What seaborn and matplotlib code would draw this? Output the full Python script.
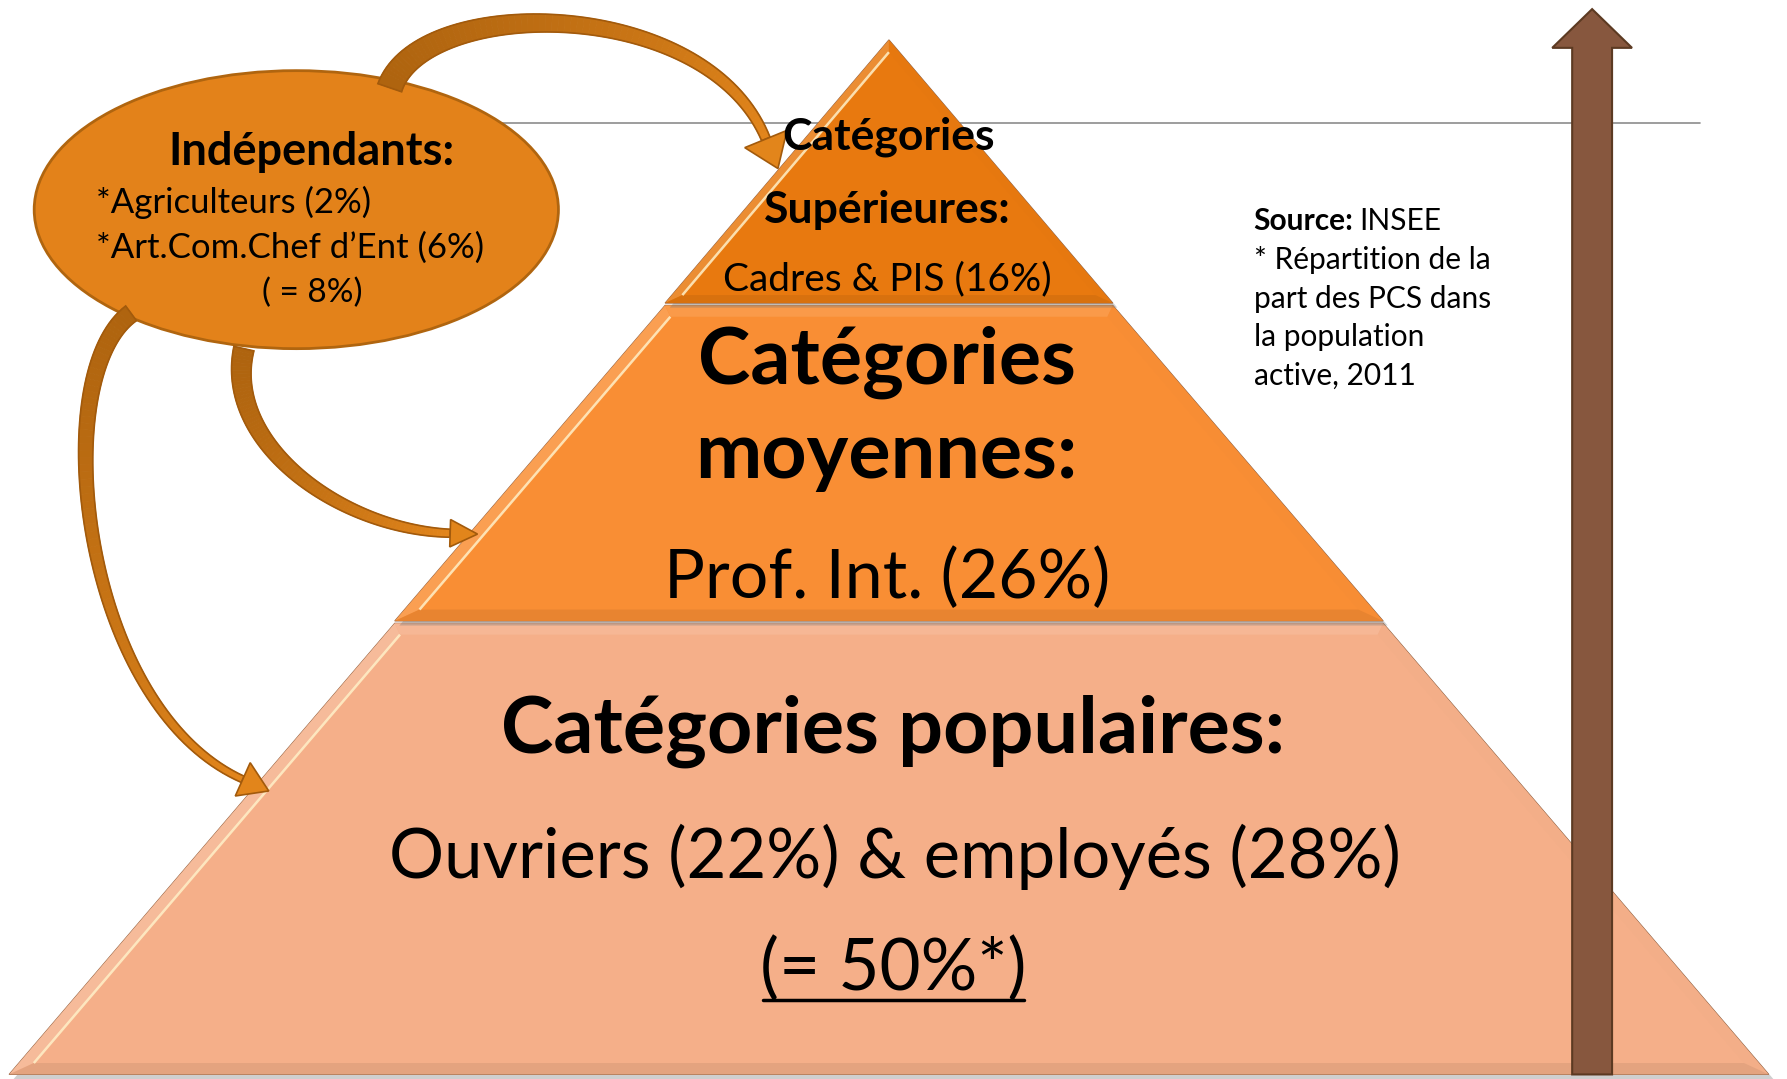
import numpy as np
import matplotlib
matplotlib.use("Agg")
import matplotlib.pyplot as plt
import matplotlib.patches as mpatches
from matplotlib.colors import to_rgb
import seaborn as sns

# Donnees
tier_titles = [["Catégories populaires:"], ["Catégories", "moyennes:"], ["Catégories", "Supérieures:"]]
tier_details = ["Ouvriers (22%) & employés (28%)", "Prof. Int. (26%)", "Cadres & PIS (16%)"]
tier_total = "(= 50%*)"
tier_colors = ["#F5AF89", "#F98E34", "#E8790F"]

indep_title = "Indépendants:"
indep_lines = ["*Agriculteurs (2%)", "*Art.Com.Chef d\u2019Ent (6%)"]
indep_total = "( = 8%)"

source_lines = ["* Répartition de la", "part des PCS dans", "la population", "active, 2011"]

# geometrie (coordonnees de l'image, y vers le bas)
W, H = 1568, 947
apex = np.array([780.0, 35.0])
base_y = 943.0
half_base = 772.0
cuts = [943.0, 545.0, 266.0, 35.0]

sns.set_theme(style="white")
plt.rcParams["font.family"] = ["Lato", "DejaVu Sans"]

fig = plt.figure(figsize=(17.87, 10.79), dpi=100)
ax = fig.add_axes([0, 0, 1, 1])
ax.set_xlim(0, W)
ax.set_ylim(H, 0)
ax.axis("off")


def x_at(y, side):
    k = (y - apex[1]) / (base_y - apex[1])
    return apex[0] + side * k * half_base


def inset(poly, d):
    c = poly.mean(0)
    n = len(poly)
    lines = []
    for i in range(n):
        p, q = poly[i], poly[(i + 1) % n]
        t = (q - p) / np.linalg.norm(q - p)
        nrm = np.array([-t[1], t[0]])
        if np.dot(c - p, nrm) < 0:
            nrm = -nrm
        lines.append((p + nrm * d, t))
    out = []
    for i in range(n):
        (p1, t1), (p2, t2) = lines[i - 1], lines[i]
        a, b = np.linalg.solve(np.column_stack([t1, -t2]), p2 - p1)
        out.append(p1 + a * t1)
    return np.array(out)


def shade(col, f):
    c = np.array(to_rgb(col))
    if f > 0:
        return tuple(c + (1 - c) * f)
    return tuple(c * (1 + f))


def bevel_poly(poly, color, d, z):
    ax.add_patch(mpatches.Polygon(poly + [4, 4], closed=True, fc="#777777", ec="none", alpha=0.35, zorder=z - 0.5))
    ax.add_patch(mpatches.Polygon(poly, closed=True, fc=color, ec="#9A6A4A", lw=0.8, zorder=z))
    inner = inset(poly, d)
    c = poly.mean(0)
    n = len(poly)
    for i in range(n):
        p, q = poly[i], poly[(i + 1) % n]
        mid = (p + q) / 2
        nrm = mid - c
        t = (q - p) / np.linalg.norm(q - p)
        on = np.array([-t[1], t[0]])
        if np.dot(on, nrm) < 0:
            on = -on
        light = np.dot(on, np.array([-0.7, -0.7]))
        f = 0.15 * light if light > 0 else 0.10 * light
        quad = np.array([poly[i], poly[(i + 1) % n], inner[(i + 1) % n], inner[i]])
        ax.add_patch(mpatches.Polygon(quad, closed=True, fc=shade(color, f), ec="none", zorder=z + 0.1))
        # reflet clair seulement sur le bord gauche
        if on[0] < -0.5:
            ax.plot([inner[i][0], inner[(i + 1) % n][0]], [inner[i][1], inner[(i + 1) % n][1]],
                    color="#FFF0C8", lw=1.8, alpha=0.85, zorder=z + 0.2, solid_capstyle="butt")


# ligne grise de fond
ax.plot([440, 1492], [108, 108], color="#8C8C8C", lw=1.2, zorder=1)

# pyramide
for i, col in enumerate(tier_colors):
    yb, yt = cuts[i], cuts[i + 1]
    if i == 2:
        poly = np.array([[x_at(yb, -1), yb], apex.copy(), [x_at(yb, 1), yb]])
        d = 7
    else:
        poly = np.array([[x_at(yb, -1), yb], [x_at(yt, -1), yt + 2], [x_at(yt, 1), yt + 2], [x_at(yb, 1), yb]])
        d = 10
    bevel_poly(poly, col, d, 2 + i)

# ellipse des independants
ax.add_patch(mpatches.Ellipse((260, 184), 460, 244, fc="#E3821A", ec="#B0650F", lw=2, zorder=6))


def cubic(P, t):
    P = np.asarray(P, float)
    t = t[:, None]
    return ((1 - t) ** 3) * P[0] + 3 * ((1 - t) ** 2) * t * P[1] + 3 * (1 - t) * t ** 2 * P[2] + t ** 3 * P[3]


def cubic_d(P, t):
    P = np.asarray(P, float)
    t = t[:, None]
    return 3 * ((1 - t) ** 2) * (P[1] - P[0]) + 6 * (1 - t) * t * (P[2] - P[1]) + 3 * t ** 2 * (P[3] - P[2])


def curved_arrow(P, w0, w1, head_w, head_l, c0="#AF640F", c1="#E2851B", edge="#A25A0C"):
    t = np.linspace(0, 1, 80)
    pts = cubic(P, t)
    tan = cubic_d(P, t)
    tan = tan / np.linalg.norm(tan, axis=1)[:, None]
    nrm = np.column_stack([-tan[:, 1], tan[:, 0]])
    w = np.linspace(w0, w1, len(t))[:, None] / 2
    left, right = pts + nrm * w, pts - nrm * w
    a0, a1 = np.array(to_rgb(c0)), np.array(to_rgb(c1))
    for i in range(len(t) - 1):
        col = tuple(a0 + (a1 - a0) * (i / (len(t) - 2)) ** 1.5)
        quad = np.array([left[i], left[i + 1], right[i + 1], right[i]])
        ax.add_patch(mpatches.Polygon(quad, closed=True, fc=col, ec=col, lw=0.6, zorder=7))
    outline = np.vstack([left, right[::-1]])
    ax.add_patch(mpatches.Polygon(outline, closed=True, fill=False, ec=edge, lw=1.2, zorder=7.1))
    end, te, ne = pts[-1], tan[-1], nrm[-1]
    head = np.array([end + ne * head_w / 2, end + te * head_l, end - ne * head_w / 2])
    ax.add_patch(mpatches.Polygon(head, closed=True, fc=c1, ec=edge, lw=1.2, zorder=7.2))


curved_arrow([(342, 77), (370, -5), (620, -5), (672, 122)], 22, 8, 40, 28)
curved_arrow([(214, 306), (195, 390), (300, 465), (395, 468)], 18, 7, 24, 24)
curved_arrow([(115, 275), (40, 330), (70, 620), (213, 684)], 16, 6, 32, 25)

# fleche marron verticale
ax.add_patch(mpatches.FancyArrow(1397, 943, 0, -935, width=35, head_width=70, head_length=34,
                                 length_includes_head=True, fc="#87573E", ec="#5C3A22", lw=1.5, zorder=8))

# textes de la pyramide
kw = dict(ha="center", va="center", color="black", zorder=10)
ax.text(784, 642, tier_titles[0][0], fontsize=57, fontweight="bold", **kw)
ax.text(785, 752, tier_details[0], fontsize=49.5, **kw)
t50 = ax.text(784, 851, tier_total, fontsize=51, **kw)

ax.text(778, 318, tier_titles[1][0], fontsize=57, fontweight="bold", **kw)
ax.text(778, 400, tier_titles[1][1], fontsize=57, fontweight="bold", **kw)
ax.text(778, 508, tier_details[1], fontsize=49, **kw)

ax.text(780, 120, tier_titles[2][0], fontsize=32, fontweight="bold", **kw)
ax.text(779, 184, tier_titles[2][1], fontsize=32, fontweight="bold", **kw)
ax.text(779, 245, tier_details[2], fontsize=28, **kw)

# textes de l'ellipse
ax.text(273, 133, indep_title, fontsize=32.5, fontweight="bold", **kw)
for i, line in enumerate(indep_lines):
    ax.text(84, 178 + 39 * i, line, fontsize=25, color="black", ha="left", va="center", zorder=10)
ax.text(274, 257, indep_total, fontsize=24, **kw)

# source
src = ax.text(1100, 194, "Source:", fontsize=21.5, fontweight="bold", color="black",
              ha="left", va="center", zorder=10)
fig.canvas.draw()
r = fig.canvas.get_renderer()
bb = src.get_window_extent(r).transformed(ax.transData.inverted())
ax.text(bb.x1 + 5, 194, "INSEE", fontsize=21.5, color="black", ha="left", va="center", zorder=10)
for i, line in enumerate(source_lines):
    ax.text(1100, 228 + 34 * i, line, fontsize=21.5, color="black", ha="left", va="center", zorder=10)

# soulignement du total
bb = t50.get_window_extent(r).transformed(ax.transData.inverted())
ax.plot([bb.x0 + 2, bb.x1 - 2], [max(bb.y0, bb.y1) - 2] * 2, color="black", lw=2.5, zorder=10)

fig.savefig("out.png", dpi=100)
plt.close(fig)
